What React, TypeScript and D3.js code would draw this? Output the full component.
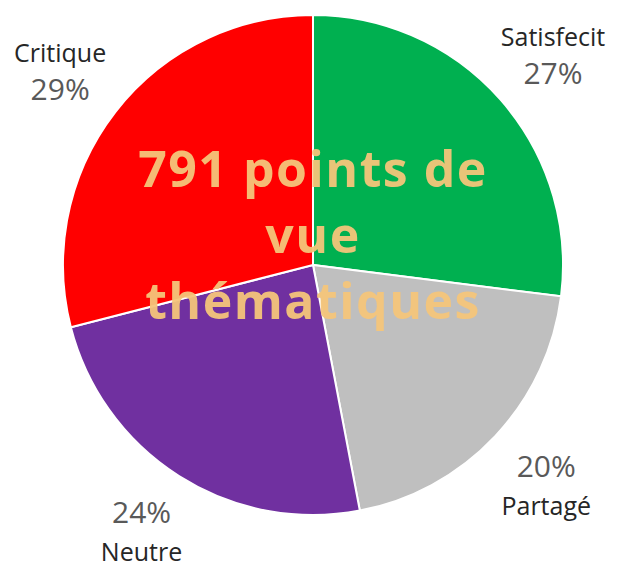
import React from "react";
import * as d3 from "d3";

const categories = ["Satisfecit", "Partagé", "Neutre", "Critique"];
const values = [27, 20, 24, 29];
const colors = ["#00B050", "#BFBFBF", "#7030A0", "#FF0000"];
const centerLines = ["791 points de", "vue", "thématiques"];

export default function App() {
  const W = 627, H = 569;
  const cx = 313, cy = 265, r = 250;
  const pie = d3.pie<number>().sort(null).value((d) => d);
  const arcs = pie(values);
  const arc = d3.arc<d3.PieArcDatum<number>>().innerRadius(0).outerRadius(r);
  const labelArc = d3.arc<d3.PieArcDatum<number>>().innerRadius(320).outerRadius(320);
  const font = "'Segoe UI', 'Open Sans', 'Noto Sans', sans-serif";
  const maxY = H - cy - 8;
  return (
    <svg width={W} height={H} style={{ position: "absolute", left: 0, top: 0 }}>
      <rect width={W} height={H} fill="#fff" />
      <g transform={`translate(${cx},${cy})`}>
        {arcs.map((a, i) => (
          <path key={i} d={arc(a) || ""} fill={colors[i]} stroke="#fff" strokeWidth={2} />
        ))}
        {arcs.map((a, i) => {
          const [lx, ly0] = labelArc.centroid(a);
          const ly = Math.min(ly0, maxY - 31);
          const mid = (a.startAngle + a.endAngle) / 2;
          const bottom = Math.cos(mid) < 0;
          const pct = `${values[i]}%`;
          const name = categories[i];
          const first = bottom ? pct : name;
          const second = bottom ? name : pct;
          const nameStyle = { fontSize: 25, fill: "#262626" };
          const pctStyle = { fontSize: 30, fill: "#595959" };
          return (
            <g key={"l" + i} fontFamily={font} textAnchor="middle">
              <text x={lx} y={ly - 7} {...(bottom ? pctStyle : nameStyle)}>{first}</text>
              <text x={lx} y={ly + 31} {...(bottom ? nameStyle : pctStyle)}>{second}</text>
            </g>
          );
        })}
        {centerLines.map((t, i) => (
          <text key={"c" + i} x={0} y={-78 + i * 66} textAnchor="middle" fontFamily={font}
            fontWeight="bold" fontSize={50} letterSpacing={1.5} fill="#F4C57A" fillOpacity={0.95}>{t}</text>
        ))}
      </g>
    </svg>
  );
}
